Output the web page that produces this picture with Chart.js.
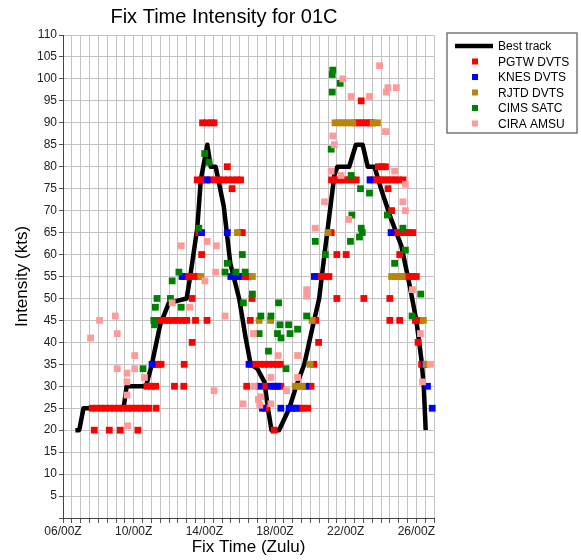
<!DOCTYPE html>
<html>
<head>
<meta charset="utf-8">
<script src="https://cdn.jsdelivr.net/npm/chart.js@4.4.1/dist/chart.umd.min.js"></script>
<style>
  html, body { margin: 0; padding: 0; background: #fff; }
</style>
</head>
<body>
<canvas id="myChart" width="581" height="560"></canvas>
<script>
// x = day of month (6.0 = 06/00Z), y = intensity in knots
const chartTitle = 'Fix Time Intensity for 01C';
const dayTicks = [6, 10, 14, 18, 22, 26];

const bestTrack = [
    [6.70, 20], [6.92, 20], [7.16, 25], [9.43, 25], [9.60, 30], [10.70, 30], [11.03, 35],
    [11.50, 44], [11.99, 49], [13.00, 50], [13.20, 55], [13.60, 66], [13.80, 77], [14.17, 85],
    [14.36, 80], [14.64, 80], [15.10, 71], [15.47, 58], [15.97, 50], [16.34, 41], [16.62, 35],
    [17.00, 34], [17.40, 31], [17.60, 25], [17.80, 20], [18.23, 20], [18.81, 25], [19.20, 30],
    [19.66, 35], [20.10, 43], [20.50, 50], [20.80, 60], [21.08, 69], [21.36, 78], [21.53, 80],
    [22.20, 80], [22.58, 85], [22.96, 85], [23.25, 80], [23.63, 80], [24.00, 75], [24.58, 68],
    [25.15, 62], [25.62, 53], [26.00, 45], [26.29, 36], [26.42, 30], [26.53, 20]
];

const pgtw = [
    [7.65, 25], [7.9, 25], [8.15, 25], [8.4, 25], [8.65, 25], [8.9, 25], [9.15, 25], [9.4, 25],
    [9.65, 25], [9.9, 25], [10.15, 25], [10.4, 25], [10.65, 25], [10.85, 25], [11.27, 25],
    [7.77, 20], [8.62, 20], [9.24, 20], [10.24, 20],
    [10.75, 30], [11.0, 30], [11.25, 30], [12.31, 30], [12.84, 30],
    [11.2, 35], [11.4, 35], [11.55, 35], [12.86, 35], [13.31, 40],
    [11.5, 45], [11.75, 45], [12.0, 45], [12.25, 45], [12.5, 45], [12.75, 45], [13.0, 45],
    [13.5, 45], [14.15, 45], [13.31, 50],
    [12.9, 55], [13.15, 55], [13.4, 55], [13.65, 55], [13.85, 60], [13.69, 65],
    [13.6, 77], [13.85, 77], [14.1, 77], [14.35, 77], [14.6, 77], [14.85, 77], [15.1, 77],
    [15.35, 77], [15.6, 77], [15.85, 77], [16.05, 77],
    [13.9, 90], [14.15, 90], [14.4, 90], [14.55, 90],
    [15.3, 80], [15.57, 75], [16.0, 65], [16.15, 65],
    [16.1, 55], [16.3, 55], [16.5, 55], [16.7, 50], [16.6, 45],
    [16.65, 35], [16.9, 35], [17.15, 35], [17.4, 35], [17.65, 35], [17.9, 35], [18.15, 35], [18.3, 35],
    [16.4, 30], [17.44, 30], [18.33, 30], [20.04, 30],
    [17.47, 25], [19.4, 25], [19.6, 25], [19.85, 25], [17.95, 20],
    [20.2, 35], [20.3, 45], [20.47, 40],
    [20.41, 55], [20.6, 55], [20.8, 55], [21.05, 55],
    [21.5, 50], [23.03, 50], [24.5, 50], [21.5, 60], [22.03, 60], [25.06, 60],
    [21.18, 65], [24.78, 65], [25.0, 65], [25.2, 65], [25.4, 65], [25.6, 65], [25.8, 65],
    [24.6, 70], [24.4, 75],
    [21.2, 77], [21.4, 77], [21.6, 77], [21.8, 77], [22.0, 77], [22.2, 77], [22.4, 77], [22.6, 77],
    [23.4, 77], [23.6, 77], [23.8, 77], [24.0, 77], [24.2, 77], [24.4, 77], [24.6, 77], [24.8, 77],
    [25.0, 77], [25.25, 77],
    [23.85, 80], [24.05, 80], [24.25, 80],
    [22.55, 90], [22.75, 90], [22.95, 90], [23.15, 90], [23.35, 90], [23.5, 90], [22.88, 95],
    [25.4, 55], [25.6, 55], [25.8, 55], [26.0, 55],
    [24.5, 45], [25.06, 45], [25.95, 45], [26.2, 45], [26.1, 40], [26.3, 35]
];

const knes = [
    [11.04, 35], [12.74, 55], [13.84, 65], [14.16, 77], [15.3, 65], [15.5, 55], [15.7, 55],
    [15.92, 55], [16.53, 35], [17.1, 30], [17.77, 30], [17.95, 30], [18.14, 30], [17.29, 25],
    [18.33, 25], [18.8, 25], [19.0, 25], [19.19, 25], [19.75, 30], [20.23, 55], [23.38, 77],
    [24.57, 65], [26.45, 35], [26.63, 30], [26.9, 25]
];

const rjtd = [
    [13.8, 55], [15.87, 65], [16.72, 55], [17.1, 45], [17.75, 45], [19.15, 30], [19.35, 30],
    [19.55, 30], [19.98, 35], [20.1, 45], [21.0, 65],
    [21.4, 90], [21.6, 90], [21.8, 90], [22.0, 90], [22.2, 90], [22.4, 90], [23.55, 90], [23.8, 90],
    [24.6, 55], [24.8, 55], [25.0, 55], [25.2, 55], [26.4, 45], [26.55, 35]
];

const cims = [
    [10.53, 34], [11.14, 45], [11.18, 44], [11.23, 48], [11.32, 50], [12.08, 50], [12.18, 54],
    [12.56, 56], [12.69, 48], [13.69, 66], [14.02, 83], [14.26, 81], [15.3, 58], [15.17, 56],
    [15.78, 56], [16.31, 56], [16.15, 60], [16.72, 51], [16.21, 49], [17.2, 46], [17.77, 46],
    [17.1, 42], [17.63, 38], [18.2, 49], [18.28, 44], [18.77, 44], [19.28, 43], [18.14, 42],
    [18.34, 41], [18.85, 42], [18.62, 34],
    [19.79, 46], [20.28, 63], [20.85, 60], [21.18, 84], [21.24, 97], [21.24, 101], [21.27, 102],
    [21.69, 99], [22.31, 78], [22.84, 75], [23.35, 74], [22.35, 69], [22.88, 66], [22.94, 65],
    [22.78, 64], [22.27, 63], [24.36, 69], [25.24, 66], [25.38, 61], [24.77, 58], [26.25, 51],
    [25.76, 46]
];

const cira = [
    [7.56, 41], [8.07, 45], [8.96, 46], [9.07, 42], [10.06, 37], [9.07, 34], [9.62, 33],
    [10.06, 34], [9.62, 31], [10.61, 32], [9.62, 28], [9.66, 21], [12.18, 49], [13.17, 48],
    [12.69, 62], [14.16, 63], [14.68, 62], [14.64, 56], [14.03, 54], [15.17, 46], [14.55, 29],
    [16.78, 42], [16.19, 26], [16.82, 30], [17.2, 27.6], [17.14, 25.7], [17.06, 27], [17.77, 26],
    [17.77, 32], [18.17, 37], [19.28, 37], [19.28, 32], [18.65, 29],
    [19.79, 52], [19.79, 50.5], [20.28, 66], [20.8, 72], [22.18, 68], [21.18, 79], [21.74, 78],
    [21.27, 87], [21.36, 85], [21.84, 100], [22.31, 96], [23.35, 96], [24.3, 97], [24.39, 98],
    [24.87, 98], [23.92, 103], [24.26, 88], [24.77, 79], [25.38, 76], [25.24, 72], [25.38, 70],
    [25.78, 52], [26.23, 42], [26.35, 31], [26.8, 35]
];

const FONT = "'Liberation Sans', Arial, sans-serif";

function pts(list) {
    return list.map(p => ({ x: p[0], y: p[1] }));
}

function fixSet(label, list, color, order) {
    return {
        label: label,
        data: pts(list),
        backgroundColor: color,
        borderColor: color,
        borderWidth: 0,
        pointStyle: 'rect',
        pointRadius: 4.8,
        pointHoverRadius: 4.8,
        order: order,
        clip: 6
    };
}

// title drawn over the left part, like the original plot
const plotTitle = {
    id: 'plotTitle',
    afterDraw(chart) {
        const c = chart.ctx;
        c.save();
        c.font = '20px ' + FONT;
        c.fillStyle = '#000';
        c.textAlign = 'center';
        c.textBaseline = 'middle';
        c.fillText(chartTitle, 224, 17);
        c.restore();
    }
};

// boxed legend at top right
const boxLegend = {
    id: 'boxLegend',
    afterDraw(chart) {
        const c = chart.ctx;
        c.save();
        c.strokeStyle = '#777';
        c.lineWidth = 1.5;
        c.strokeRect(447, 33, 130, 100);
        c.font = '12px ' + FONT;
        c.textBaseline = 'middle';
        c.textAlign = 'left';
        chart.data.datasets.forEach((ds, i) => {
            let y = 46 + i * 15.5;
            if (ds.type === 'line') {
                c.strokeStyle = ds.borderColor;
                c.lineWidth = 4.5;
                c.beginPath();
                c.moveTo(455, y);
                c.lineTo(493, y);
                c.stroke();
            } else {
                c.fillStyle = ds.backgroundColor;
                c.fillRect(472, y - 3, 6, 6);
            }
            c.fillStyle = '#000';
            c.fillText(ds.label, 498, y + 1);
        });
        c.restore();
    }
};

let ctx = document.getElementById('myChart').getContext('2d');
let myChart = new Chart(ctx, {
    type: 'scatter',
    data: {
        datasets: [
            {
                type: 'line',
                label: 'Best track',
                data: pts(bestTrack),
                borderColor: '#000',
                backgroundColor: '#000',
                borderWidth: 4.5,
                borderJoinStyle: 'round',
                pointRadius: 0,
                tension: 0,
                fill: false,
                order: 10
            },
            fixSet('PGTW DVTS', pgtw, '#ff0000', 5),
            fixSet('KNES DVTS', knes, '#0000ff', 4),
            fixSet('RJTD DVTS', rjtd, '#b8860b', 3),
            fixSet('CIMS SATC', cims, '#008000', 2),
            fixSet('CIRA AMSU', cira, '#ff9a9a', 1)
        ]
    },
    plugins: [plotTitle, boxLegend],
    options: {
        responsive: false,
        animation: false,
        devicePixelRatio: 1,
        layout: {
            padding: { top: 35, right: 147, left: 0, bottom: 0 }
        },
        plugins: {
            legend: { display: false },
            title: { display: false },
            tooltip: { enabled: false }
        },
        scales: {
            x: {
                type: 'linear',
                min: 6,
                max: 27,
                afterFit: (s) => { s.height = 42; },
                grid: {
                    color: '#c4c4c4',
                    tickColor: '#555',
                    tickLength: 5
                },
                border: { color: '#444' },
                ticks: {
                    stepSize: 0.5,
                    autoSkip: false,
                    maxRotation: 0,
                    padding: 1,
                    color: '#222',
                    font: { family: FONT, size: 12 },
                    callback: (v) => {
                        if (!dayTicks.includes(v)) return '';
                        return String(v).padStart(2, '0') + '/00Z';
                    }
                },
                title: {
                    display: true,
                    text: 'Fix Time (Zulu)',
                    color: '#000',
                    font: { family: FONT, size: 17 },
                    padding: { top: 0, bottom: 2 }
                }
            },
            y: {
                min: 0,
                max: 110,
                afterFit: (s) => { s.width = 63; },
                grid: {
                    color: '#c4c4c4',
                    tickColor: '#555',
                    tickLength: 4
                },
                border: { color: '#444' },
                ticks: {
                    stepSize: 5,
                    padding: 2,
                    color: '#222',
                    font: { family: FONT, size: 12 },
                    callback: (v) => (v === 0 ? '' : v)
                },
                title: {
                    display: true,
                    text: 'Intensity (kts)',
                    color: '#000',
                    font: { family: FONT, size: 17 },
                    padding: { top: 12, bottom: 0 }
                }
            }
        }
    }
});
</script>
</body>
</html>
